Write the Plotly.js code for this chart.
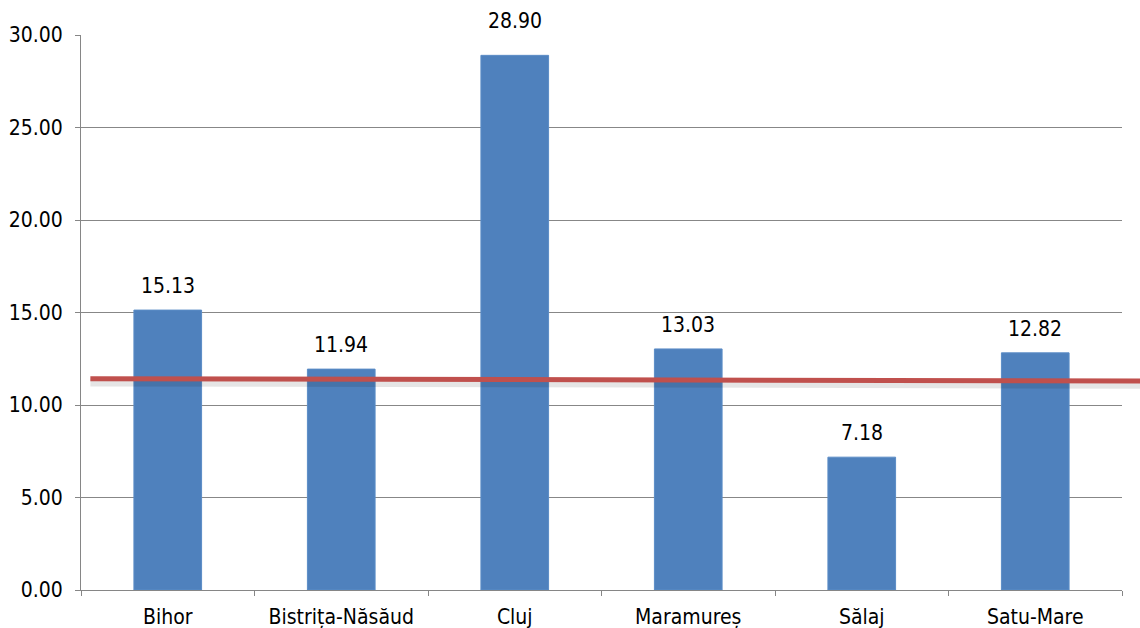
<!DOCTYPE html>
<html><head><meta charset="utf-8">
<script src="https://cdn.plot.ly/plotly-3.0.1.min.js"></script>
<style>html,body{margin:0;padding:0;background:#fff}</style>
</head><body>
<div id="chart" style="width:1140px;height:628px"></div>
<script>
var categories = ["Bihor", "Bistrița-Năsăud", "Cluj", "Maramureș", "Sălaj", "Satu-Mare"];
var values = [15.13, 11.94, 28.90, 13.03, 7.18, 12.82];
var lineY = [11.42, 11.30];
var lineXPaper = [0.009, 1.02];
var yTicks = [0, 5, 10, 15, 20, 25, 30];

var FONT = "DejaVu Sans Condensed, DejaVu Sans";
var FS = 21;
var labelShift = [10, 10, 20, 10, 10, 10];

var bars = {
  type: "bar",
  x: categories,
  y: values,
  width: 0.39,
  marker: {color: "#4F81BD", line: {color: "#5B8CC6", width: 1}},
  hoverinfo: "x+y"
};

var annotations = categories.map(function(c, i){
  return {x: c, y: values[i], xref: "x", yref: "y", text: values[i].toFixed(2),
          showarrow: false, yanchor: "bottom", yshift: labelShift[i],
          font: {family: FONT, size: FS, color: "#000"}};
});

var layout = {
  width: 1140, height: 628,
  margin: {l: 81, r: 18, t: 35, b: 38},
  paper_bgcolor: "#fff", plot_bgcolor: "#fff",
  showlegend: false,
  font: {family: FONT, size: FS, color: "#000"},
  xaxis: {
    type: "category",
    tickson: "boundaries",
    ticks: "outside", ticklen: 5, tickcolor: "#868686",
    showline: true, linecolor: "#868686", linewidth: 1,
    showgrid: false,
    ticklabelstandoff: 8,
    tickfont: {family: FONT, size: FS, color: "#000"}
  },
  yaxis: {
    range: [0, 30],
    tickvals: yTicks,
    ticktext: yTicks.map(function(v){return v.toFixed(2);}),
    ticks: "outside", ticklen: 5, tickcolor: "#868686",
    showline: true, linecolor: "#868686", linewidth: 1,
    showgrid: true, gridcolor: "#878787", gridwidth: 1,
    zeroline: false,
    ticklabelstandoff: 8,
    tickfont: {family: FONT, size: FS, color: "#000"}
  },
  annotations: annotations,
  shapes: [
    {type: "line", xref: "paper", yref: "y", layer: "above",
     x0: lineXPaper[0], x1: lineXPaper[1], y0: lineY[0] - 0.2, y1: lineY[1] - 0.2,
     line: {color: "rgba(0,0,0,0.10)", width: 8}},
    {type: "line", xref: "paper", yref: "y", layer: "above",
     x0: lineXPaper[0], x1: lineXPaper[1], y0: lineY[0], y1: lineY[1],
     line: {color: "#C0504D", width: 5}}
  ]
};

Plotly.newPlot("chart", [bars], layout, {displayModeBar: false, staticPlot: true});
</script>
</body></html>
